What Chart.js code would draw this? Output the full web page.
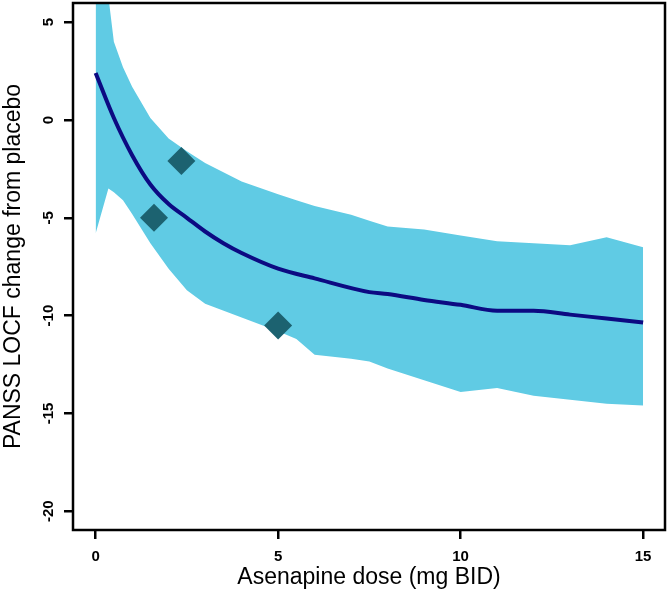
<!DOCTYPE html>
<html>
<head>
<meta charset="utf-8">
<title>Asenapine dose response</title>
<script src="https://cdn.jsdelivr.net/npm/chart.js@4.4.1/dist/chart.umd.min.js"></script>
<style>
  body { margin: 0; background: #fff; }
  #chart-box { width: 667px; height: 597px; }
</style>
</head>
<body>
<div id="chart-box"><canvas id="myChart" width="667" height="597"></canvas></div>
<script>
// DATA

const bandDose = [0, 0.35, 0.5, 0.75, 1, 1.5, 2, 2.5, 3, 4, 5, 5.5, 6, 7, 7.5, 8, 9, 10, 11, 12, 13, 14, 15];
const bandUpper = [8, 6.3, 4.0, 2.7, 1.7, 0.1, -0.95, -1.6, -2.2, -3.15, -3.8, -4.1, -4.4, -4.85, -5.15, -5.45, -5.6, -5.9, -6.2, -6.3, -6.4, -6.0, -6.5];
const bandLower = [-5.8, -3.5, -3.7, -4.1, -4.8, -6.3, -7.6, -8.7, -9.4, -10.1, -10.8, -11.2, -12.0, -12.2, -12.35, -12.7, -13.3, -13.9, -13.7, -14.1, -14.3, -14.5, -14.6];

const curveDose = [0, 0.5, 1, 1.5, 2, 2.5, 3, 3.5, 4, 5, 6, 7.5, 8, 9, 10, 11, 12, 13, 14, 15];
const curveMedian = [2.4, 0.1, -1.8, -3.3, -4.3, -5.0, -5.7, -6.3, -6.8, -7.6, -8.1, -8.8, -8.9, -9.2, -9.45, -9.75, -9.75, -9.95, -10.15, -10.35];

const obsDose = [1.6, 2.35, 5];
const obsChange = [-5.0, -2.1, -10.5];

const xTicks = [0, 5, 10, 15];
const yTicks = [-20, -15, -10, -5, 0, 5];

const fontFamily = 'Arial, "Liberation Sans", sans-serif';
const ctx = document.getElementById('myChart').getContext('2d');

function toPoints(xs, ys) {
    return xs.map((x, i) => ({ x: x, y: ys[i] }));
}

// Frame and tick labels (R style: rotated y labels)

const axisStyle = {
    id: 'axisStyle',
    afterDatasetsDraw(chart) {
        const { ctx, chartArea, scales } = chart;
        ctx.save();
        ctx.strokeStyle = '#000';
        ctx.lineWidth = 2.5;
        ctx.strokeRect(chartArea.left, chartArea.top, chartArea.right - chartArea.left, chartArea.bottom - chartArea.top);

        ctx.fillStyle = '#000';
        ctx.font = 'bold 15px ' + fontFamily;
        ctx.textAlign = 'center';
        ctx.textBaseline = 'middle';
        xTicks.forEach((v) => {
            ctx.fillText(String(v), scales.x.getPixelForValue(v), 557);
        });
        yTicks.forEach((v) => {
            ctx.save();
            ctx.translate(49, scales.y.getPixelForValue(v));
            ctx.rotate(-Math.PI / 2);
            ctx.fillText(String(v), 0, 0);
            ctx.restore();
        });
        ctx.restore();
    }
};

const tickGrid = {
    drawOnChartArea: false,
    drawTicks: true,
    tickLength: 9,
    color: '#000',
    lineWidth: 2.5
};

const myChart = new Chart(ctx, {
    type: 'line',
    data: {
        datasets: [{
            label: 'Upper',
            data: toPoints(bandDose, bandUpper),
            fill: '+1',
            backgroundColor: 'rgb(96, 203, 228)',
            borderWidth: 0,
            pointRadius: 0,
            order: 3
        }, {
            label: 'Lower',
            data: toPoints(bandDose, bandLower),
            fill: false,
            borderWidth: 0,
            pointRadius: 0,
            order: 4
        }, {
            label: 'Median',
            data: toPoints(curveDose, curveMedian),
            borderColor: 'rgb(12, 10, 130)',
            borderWidth: 4,
            pointRadius: 0,
            cubicInterpolationMode: 'monotone',
            fill: false,
            order: 1
        }, {
            label: 'Observed',
            data: toPoints(obsDose, obsChange),
            showLine: false,
            pointStyle: 'rectRot',
            pointRadius: 14,
            backgroundColor: 'rgb(28, 98, 112)',
            borderWidth: 0,
            order: 0
        }]
    },
    options: {
        responsive: false,
        animation: false,
        layout: { autoPadding: false, padding: { top: 3, right: 2, left: 0, bottom: 0 } },
        plugins: {
            legend: { display: false },
            tooltip: { enabled: false }
        },
        scales: {
            x: {
                type: 'linear',
                min: -0.62,
                max: 15.6,
                afterBuildTicks: (s) => { s.ticks = xTicks.map((v) => ({ value: v })); },
                afterFit: (s) => { s.height = 67; },
                ticks: { display: false },
                grid: tickGrid,
                border: { display: false },
                title: {
                    display: true,
                    text: 'Asenapine dose (mg BID)',
                    color: '#000',
                    font: { size: 23, family: fontFamily },
                    padding: { top: 0, bottom: 6 }
                }
            },
            y: {
                type: 'linear',
                min: -20.96,
                max: 5.98,
                afterBuildTicks: (s) => { s.ticks = yTicks.map((v) => ({ value: v })); },
                afterFit: (s) => { s.width = 73; },
                ticks: { display: false },
                grid: tickGrid,
                border: { display: false },
                title: {
                    display: true,
                    text: 'PANSS LOCF change from placebo',
                    color: '#000',
                    font: { size: 23, family: fontFamily },
                    padding: { top: 0, bottom: 0 }
                }
            }
        }
    },
    plugins: [axisStyle]
});
</script>
</body>
</html>
